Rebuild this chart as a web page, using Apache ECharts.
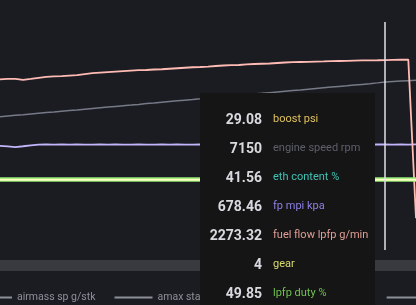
<!DOCTYPE html>
<html>
<head>
<meta charset="utf-8">
<script src="https://cdn.jsdelivr.net/npm/echarts@6/dist/echarts.min.js"></script>
<style>
  html, body { margin: 0; padding: 0; background: #1b1c22; overflow: hidden; }
  #chart { width: 416px; height: 305px; }
</style>
</head>
<body>
<div id="chart"></div>
<script>
// log time (s)
const times = ['0.0','0.1','0.2','0.3','0.4','0.5','0.6','0.7','0.8','0.9',
  '1.0','1.1','1.2','1.3','1.4','1.5','1.6','1.7','1.8','1.9',
  '2.0','2.1','2.2','2.3','2.4','2.5','2.6','2.7','2.8','2.9',
  '3.0','3.1','3.2','3.3','3.4','3.5','3.6','3.7','3.8','3.9',
  '4.0','4.1','4.2','4.3','4.4','4.5','4.6','4.7','4.8','4.9',
  '5.0','5.1','5.2','5.3','5.4'];

const boost = [29.01,29.03,28.98,29.02,29.05,29.04,29.06,29.03,29.05,29.07,
  29.04,29.06,29.05,29.08,29.06,29.07,29.05,29.08,29.06,29.07,
  29.09,29.06,29.08,29.07,29.09,29.06,29.08,29.07,29.09,29.08,
  29.06,29.08,29.09,29.07,29.08,29.06,29.09,29.08,29.07,29.09,
  29.08,29.06,29.09,29.07,29.08,29.09,29.07,29.08,29.06,29.09,
  29.08,29.07,29.09,29.05,21.40];
const engineSpeed = [5670,5700,5730,5755,5785,5815,5845,5870,5905,5935,
  5960,5990,6020,6050,6080,6110,6140,6165,6195,6230,
  6255,6285,6315,6345,6375,6400,6430,6465,6490,6520,
  6550,6575,6610,6640,6665,6695,6725,6755,6785,6810,
  6840,6870,6900,6930,6960,6985,7015,7045,7075,7110,
  7150,7170,7190,7205,7220];
const ethContent = [41.55,41.56,41.55,41.57,41.56,41.55,41.56,41.57,41.56,41.55,
  41.56,41.56,41.55,41.57,41.56,41.56,41.55,41.56,41.57,41.56,
  41.55,41.56,41.56,41.57,41.56,41.55,41.56,41.56,41.57,41.56,
  41.55,41.56,41.57,41.56,41.56,41.55,41.56,41.57,41.56,41.56,
  41.55,41.56,41.56,41.57,41.56,41.55,41.56,41.56,41.57,41.56,
  41.56,41.55,41.56,41.57,41.56];
const fpMpi = [669,666,662,667,673,677,679,678,679,678,
  679,678,678,679,678,679,678,678,679,678,
  678,679,678,679,678,678,679,678,679,678,
  678,679,678,678,679,678,679,678,678,679,
  678,679,678,678,679,678,678,679,678,679,
  678.46,678,679,678,679];
const fuelFlow = [2044,2048,2050,2038,2048,2062,2072,2078,2083,2089,
  2095,2107,2117,2124,2131,2137,2143,2148,2153,2155,
  2161,2164,2170,2176,2182,2188,2191,2196,2203,2209,
  2213,2215,2222,2227,2230,2233,2239,2245,2249,2251,
  2253,2256,2258,2261,2263,2265,2268,2270,2271,2272,
  2273.32,2276,2278,2279,380];
const gear = [4,4,4,4,4,4,4,4,4,4,
  4,4,4,4,4,4,4,4,4,4,
  4,4,4,4,4,4,4,4,4,4,
  4,4,4,4,4,4,4,4,4,4,
  4,4,4,4,4,4,4,4,4,4,
  4,4,4,4,4];
const lpfpDuty = [49.84,49.85,49.83,49.86,49.85,49.84,49.85,49.86,49.84,49.85,
  49.85,49.84,49.86,49.85,49.85,49.84,49.86,49.85,49.84,49.85,
  49.86,49.85,49.84,49.85,49.86,49.85,49.85,49.84,49.86,49.85,
  49.84,49.85,49.86,49.85,49.85,49.84,49.85,49.86,49.85,49.84,
  49.85,49.86,49.85,49.84,49.85,49.85,49.86,49.85,49.84,49.85,
  49.85,49.86,49.85,49.84,49.85];

const hiddenNames = ['airmass sp g/stk', 'amax stat airmass limit before corr abs g/stk', 'baro kpa'];
const shownNames = ['boost psi', 'engine speed rpm', 'eth content %', 'fp mpi kpa',
  'fuel flow lpfp g/min', 'gear', 'lpfp duty %'];
const shownData = [boost, engineSpeed, ethContent, fpMpi, fuelFlow, gear, lpfpDuty];
const axisMax = [20, 9700, 30, 1466, 2730, 13, 161];
const lineColors = ['#e3c35a', '#6c6f7b', '#3cc4b4', '#b2a6e6', '#eaaaa4', '#e6eeae', '#86d46c'];
const lineWidths = [1.5, 1.5, 1.5, 1.8, 1.8, 2, 4.5];
const nameColors = ['#e0c25e', '#5d606b', '#3ec3b3', '#8b80e0', '#e29e96', '#d9dc6c', '#6fc24e'];
const cursorIndex = 50;

const chart = echarts.init(document.getElementById('chart'));

const series = [];
hiddenNames.forEach(function (n) {
  series.push({ name: n, type: 'line', symbol: 'none', data: [], lineStyle: { width: 2 } });
});
shownNames.forEach(function (n, i) {
  series.push({
    name: n, type: 'line', symbol: 'none', yAxisIndex: i,
    data: shownData[i],
    color: lineColors[i],
    lineStyle: { width: lineWidths[i], color: lineColors[i] },
    z: i === 5 ? 4 : 3
  });
});

const selected = {};
hiddenNames.forEach(function (n) { selected[n] = false; });

chart.setOption({
  animation: false,
  backgroundColor: '#1b1c22',
  textStyle: { fontFamily: 'Roboto' },
  grid: { left: 0, right: -5, top: 22, bottom: 55 },
  xAxis: {
    type: 'category', data: times, boundaryGap: false,
    axisLine: { show: false }, axisTick: { show: false },
    axisLabel: { show: false }, splitLine: { show: false }
  },
  yAxis: axisMax.map(function (m) {
    return { type: 'value', min: 0, max: m, show: false, splitLine: { show: false } };
  }),
  dataZoom: [{
    type: 'slider', xAxisIndex: 0, start: 0, end: 100,
    left: -20, right: -20, top: 260, height: 11,
    backgroundColor: '#393a40', fillerColor: 'rgba(0,0,0,0)',
    borderColor: 'transparent', showDetail: false, showDataShadow: false,
    handleSize: 0, handleStyle: { opacity: 0 }, moveHandleSize: 0, brushSelect: false,
    dataBackground: { lineStyle: { opacity: 0 }, areaStyle: { opacity: 0 } },
    selectedDataBackground: { lineStyle: { opacity: 0 }, areaStyle: { opacity: 0 } }
  }],
  legend: {
    top: 287, left: -31, width: 3000,
    icon: 'rect', itemWidth: 38, itemHeight: 2, itemGap: 19,
    inactiveColor: '#8d9099',
    textStyle: { color: '#8d9099', fontSize: 10.5 },
    data: hiddenNames.concat(shownNames),
    selected: selected
  },
  tooltip: {
    trigger: 'axis', triggerOn: 'none', alwaysShowContent: true,
    position: [200, 93], transitionDuration: 0,
    backgroundColor: '#151516', borderWidth: 0, padding: 0,
    extraCssText: 'box-shadow:none;border-radius:0;width:175px;height:240px;',
    axisPointer: {
      type: 'line', animation: false,
      lineStyle: { color: '#e2e2e8', width: 1.5, type: 'solid' }
    },
    formatter: function (params) {
      let html = '<div style="padding-top:11px">';
      params.forEach(function (p) {
        const i = shownNames.indexOf(p.seriesName);
        if (i < 0) return;
        html += '<div style="display:flex;align-items:center;height:29px;">' +
          '<span style="width:62px;text-align:right;font:bold 14px Roboto;color:#d9dadf">' + p.value + '</span>' +
          '<span style="margin-left:11px;font:11px Roboto;color:' + nameColors[i] + '">' + p.seriesName + '</span></div>';
      });
      return html + '</div>';
    }
  },
  series: series
});

chart.dispatchAction({ type: 'showTip', seriesIndex: 3 + 4, dataIndex: cursorIndex });
</script>
</body>
</html>
